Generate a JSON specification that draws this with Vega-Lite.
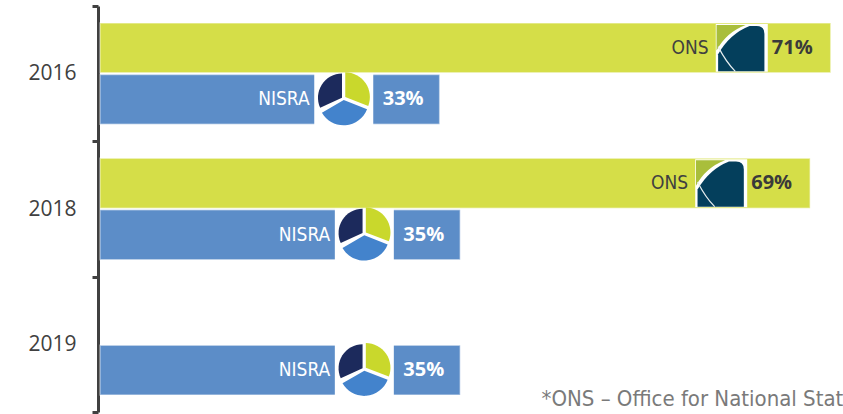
{
  "$schema": "https://vega.github.io/schema/vega-lite/v6.json",
  "width": 741,
  "height": 406,
  "autosize": {"type": "none"},
  "padding": {"left": 100, "top": 6, "right": 2, "bottom": 2},
  "background": "white",
  "config": {"view": {"stroke": null}},
  "datasets": {
    "bars": [
      {"year": "2016", "series": "ONS", "value": 71, "label": "71%"},
      {"year": "2016", "series": "NISRA", "value": 33, "label": "33%"},
      {"year": "2018", "series": "ONS", "value": 69, "label": "69%"},
      {"year": "2018", "series": "NISRA", "value": 35, "label": "35%"},
      {"year": "2019", "series": "NISRA", "value": 35, "label": "35%"}
    ],
    "note": [
      {"year": "2019", "x": 42.9, "text": "*ONS – Office for National Statistics"}
    ]
  },
  "layer": [
    {
      "data": {"name": "bars"},
      "mark": {"type": "bar", "stroke": "white", "strokeOpacity": 0.45, "strokeWidth": 1.5},
      "encoding": {
        "y": {"field": "year", "type": "nominal", "scale": {"domain": ["2016", "2018", "2019"], "paddingInner": 0, "paddingOuter": 0},
          "axis": {"title": null, "offset": 2, "domainColor": "#404040", "domainWidth": 3, "tickColor": "#404040", "tickWidth": 3, "tickSize": 6, "tickBand": "extent", "labelFont": "Open Sans", "labelFontSize": 21, "labelColor": "#404040", "labelPadding": 16}},
        "yOffset": {"field": "series", "type": "nominal", "scale": {"domain": ["ONS", "NISRA"], "paddingInner": 0.033, "paddingOuter": 0.33}},
        "x": {"field": "value", "type": "quantitative", "stack": null, "scale": {"domain": [0, 72], "nice": false}, "axis": null},
        "color": {"field": "series", "type": "nominal", "scale": {"domain": ["ONS", "NISRA"], "range": ["#D5DE48", "#5C8DC8"]}, "legend": null}
      }
    },
    {
      "data": {"name": "bars"},
      "transform": [{"filter": "datum.series == 'ONS'"}],
      "mark": {"type": "point", "filled": true, "opacity": 1, "strokeWidth": 0, "size": 2704, "color": "white", "shape": "M-4.42,-0.92H-2.42V0.92H-4.42Z"},
      "encoding": {
        "y": {"field": "year", "type": "nominal"},
        "yOffset": {"field": "series", "type": "nominal"},
        "x": {"field": "value", "type": "quantitative"}
      }
    },
    {
      "data": {"name": "bars"},
      "transform": [{"filter": "datum.series == 'ONS'"}],
      "mark": {"type": "point", "filled": true, "opacity": 1, "strokeWidth": 0, "size": 2704, "color": "#A9BE3B", "shape": "M-4.39,-0.88L-3.27,-0.88Q-4.02,-0.6 -4.39,0.1Z"},
      "encoding": {
        "y": {"field": "year", "type": "nominal"},
        "yOffset": {"field": "series", "type": "nominal"},
        "x": {"field": "value", "type": "quantitative"}
      }
    },
    {
      "data": {"name": "bars"},
      "transform": [{"filter": "datum.series == 'ONS'"}],
      "mark": {"type": "point", "filled": true, "opacity": 1, "strokeWidth": 0, "size": 2704, "color": "#043F5C", "shape": "M-3.12,-0.84Q-3.87,-0.55 -4.33,0.24L-4.33,0.9L-2.55,0.9L-2.55,-0.54Q-2.55,-0.84 -2.85,-0.84Z"},
      "encoding": {
        "y": {"field": "year", "type": "nominal"},
        "yOffset": {"field": "series", "type": "nominal"},
        "x": {"field": "value", "type": "quantitative"}
      }
    },
    {
      "data": {"name": "bars"},
      "transform": [{"filter": "datum.series == 'ONS'"}],
      "mark": {"type": "point", "filled": false, "opacity": 1, "stroke": "#E8EEF0", "strokeWidth": 1.2, "size": 2704, "shape": "M-4.33,-0.05Q-4.02,0.55 -3.67,0.9"},
      "encoding": {
        "y": {"field": "year", "type": "nominal"},
        "yOffset": {"field": "series", "type": "nominal"},
        "x": {"field": "value", "type": "quantitative"}
      }
    },
    {
      "data": {"name": "bars"},
      "transform": [{"filter": "datum.series == 'NISRA'"}],
      "mark": {"type": "point", "filled": true, "opacity": 1, "strokeWidth": 0, "size": 3481, "color": "white", "shape": "M-4.25,-0.88H-2.25V0.88H-4.25Z"},
      "encoding": {
        "y": {"field": "year", "type": "nominal"},
        "yOffset": {"field": "series", "type": "nominal"},
        "x": {"field": "value", "type": "quantitative"}
      }
    },
    {
      "data": {"name": "bars"},
      "transform": [{"filter": "datum.series == 'NISRA'"}],
      "mark": {"type": "point", "filled": true, "opacity": 1, "strokeWidth": 0, "size": 3481, "color": "#C9D82C", "shape": "M-3.2,-0.08L-3.2,-0.92A0.84,0.84 0 0 1 -2.42,0.22Z"},
      "encoding": {
        "y": {"field": "year", "type": "nominal"},
        "yOffset": {"field": "series", "type": "nominal"},
        "x": {"field": "value", "type": "quantitative"}
      }
    },
    {
      "data": {"name": "bars"},
      "transform": [{"filter": "datum.series == 'NISRA'"}],
      "mark": {"type": "point", "filled": true, "opacity": 1, "strokeWidth": 0, "size": 3481, "color": "#4383CC", "shape": "M-3.25,0.02L-2.46,0.33A0.85,0.85 0 0 1 -3.99,0.45Z"},
      "encoding": {
        "y": {"field": "year", "type": "nominal"},
        "yOffset": {"field": "series", "type": "nominal"},
        "x": {"field": "value", "type": "quantitative"}
      }
    },
    {
      "data": {"name": "bars"},
      "transform": [{"filter": "datum.series == 'NISRA'"}],
      "mark": {"type": "point", "filled": true, "opacity": 1, "strokeWidth": 0, "size": 3481, "color": "#1C2A5C", "shape": "M-3.31,-0.06L-4.05,0.28A0.82,0.82 0 0 1 -3.31,-0.88Z"},
      "encoding": {
        "y": {"field": "year", "type": "nominal"},
        "yOffset": {"field": "series", "type": "nominal"},
        "x": {"field": "value", "type": "quantitative"}
      }
    },
    {
      "data": {"name": "bars"},
      "transform": [{"filter": "datum.series == 'ONS'"}],
      "mark": {"type": "text", "align": "right", "baseline": "middle", "dx": -18, "font": "Open Sans", "fontSize": 20, "fontWeight": "bold", "color": "#3A3A3A"},
      "encoding": {
        "y": {"field": "year", "type": "nominal"},
        "yOffset": {"field": "series", "type": "nominal"},
        "x": {"field": "value", "type": "quantitative"},
        "text": {"field": "label"}
      }
    },
    {
      "data": {"name": "bars"},
      "transform": [{"filter": "datum.series == 'NISRA'"}],
      "mark": {"type": "text", "align": "right", "baseline": "middle", "dx": -16, "font": "Open Sans", "fontSize": 20, "fontWeight": "bold", "color": "white"},
      "encoding": {
        "y": {"field": "year", "type": "nominal"},
        "yOffset": {"field": "series", "type": "nominal"},
        "x": {"field": "value", "type": "quantitative"},
        "text": {"field": "label"}
      }
    },
    {
      "data": {"name": "bars"},
      "transform": [{"filter": "datum.series == 'ONS'"}],
      "mark": {"type": "text", "align": "right", "baseline": "middle", "dx": -122, "font": "DejaVu Sans Condensed, Roboto", "fontSize": 19, "color": "#404040"},
      "encoding": {
        "y": {"field": "year", "type": "nominal"},
        "yOffset": {"field": "series", "type": "nominal"},
        "x": {"field": "value", "type": "quantitative"},
        "text": {"field": "series"}
      }
    },
    {
      "data": {"name": "bars"},
      "transform": [{"filter": "datum.series == 'NISRA'"}],
      "mark": {"type": "text", "align": "right", "baseline": "middle", "dx": -130, "font": "DejaVu Sans Condensed, Roboto", "fontSize": 19, "color": "white"},
      "encoding": {
        "y": {"field": "year", "type": "nominal"},
        "yOffset": {"field": "series", "type": "nominal"},
        "x": {"field": "value", "type": "quantitative"},
        "text": {"field": "series"}
      }
    },
    {
      "data": {"name": "note"},
      "mark": {"type": "text", "align": "left", "baseline": "alphabetic", "dy": 62, "font": "DejaVu Sans Condensed, Roboto", "fontSize": 22, "color": "#7A7A7A"},
      "encoding": {
        "y": {"field": "year", "type": "nominal"},
        "x": {"field": "x", "type": "quantitative"},
        "text": {"field": "text"}
      }
    }
  ]
}
